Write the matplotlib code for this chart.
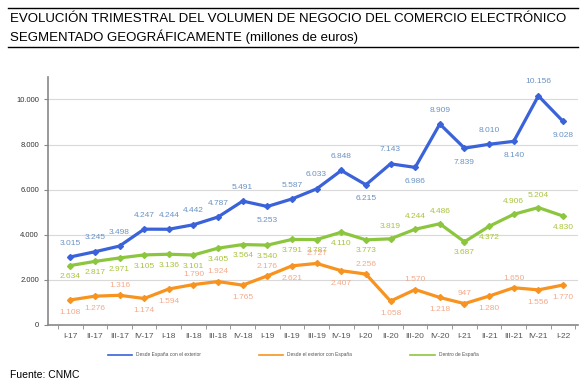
import matplotlib
matplotlib.use("Agg")
import matplotlib.pyplot as plt
from matplotlib.lines import Line2D
from matplotlib.ticker import FuncFormatter, FixedLocator

plt.rcParams["font.family"] = ["Liberation Sans", "DejaVu Sans"]

trimestres = ["I-17", "II-17", "III-17", "IV-17", "I-18", "II-18", "III-18", "IV-18",
              "I-19", "II-19", "III-19", "IV-19", "I-20", "II-20", "III-20", "IV-20",
              "I-21", "II-21", "III-21", "IV-21", "I-22"]
espana_exterior = [3015, 3245, 3498, 4247, 4244, 4442, 4787, 5491, 5253, 5587, 6033,
                   6848, 6215, 7143, 6986, 8909, 7839, 8010, 8140, 10156, 9028]
exterior_espana = [1108, 1276, 1316, 1174, 1594, 1790, 1924, 1765, 2176, 2621, 2727,
                   2407, 2256, 1058, 1570, 1218, 947, 1280, 1650, 1556, 1770]
dentro_espana = [2634, 2817, 2971, 3105, 3136, 3101, 3405, 3564, 3540, 3791, 3787,
                 4110, 3773, 3819, 4244, 4486, 3687, 4372, 4906, 5204, 4830]

# posicion de las etiquetas: "a" arriba, "b" abajo
pos_azul = list("aaaaaaaabaaababababab")
pos_naranja = list("bbabbaabababababababb")
pos_verde = list("bbbbbbbbbbbbbaaabbaab")


def fmt(v):
    return f"{v:,}".replace(",", ".")


fig = plt.figure(figsize=(5.86, 3.92), dpi=100)
ax = fig.add_axes([0.082, 0.171, 0.904, 0.633])

x = list(range(len(trimestres)))
series = [
    (espana_exterior, "#3a62d9", "#6a93c4", pos_azul, (10, -10), "Desde España con el exterior"),
    (exterior_espana, "#f7931e", "#f4a98a", pos_naranja, (7, -9), "Desde el exterior con España"),
    (dentro_espana, "#8cc63f", "#a8c43c", pos_verde, (9, -8), "Dentro de España"),
]
handles = []
for valores, color, color_et, pos, (arriba, abajo), nombre in series:
    ax.plot(x, valores, "-", color=color, lw=2.3, marker="D", ms=3)
    handles.append(Line2D([], [], color=color, lw=1.2, label=nombre))
    for xi, v, p in zip(x, valores, pos):
        dy = arriba if p == "a" else abajo
        ax.annotate(fmt(v), (xi, v), textcoords="offset points", xytext=(0, dy),
                    ha="center", va="center", fontsize=6, color=color_et)

ax.set_xlim(-0.9, len(trimestres) - 0.4)
ax.set_ylim(0, 11000)
ax.set_yticks(range(0, 10001, 2000))
ax.yaxis.set_major_formatter(FuncFormatter(lambda v, p: fmt(int(v))))
ax.set_xticks(x)
ax.set_xticklabels(trimestres)
ax.xaxis.set_minor_locator(FixedLocator([i - 0.5 for i in range(len(trimestres) + 1)]))
ax.tick_params(axis="x", which="major", length=0, labelsize=6, colors="#555555", pad=6)
ax.tick_params(axis="x", which="minor", length=3, color="#888888")
ax.tick_params(axis="y", length=3, labelsize=5.5, color="#888888", labelcolor="#333333")
ax.grid(axis="y", color="#d9d9d9", lw=0.8)
ax.set_axisbelow(True)
for s in ["top", "right"]:
    ax.spines[s].set_visible(False)
for s in ["left", "bottom"]:
    ax.spines[s].set_color("#888888")
    ax.spines[s].set_linewidth(1.2)

fig.legend(handles=handles, loc="center", bbox_to_anchor=(0.5, 0.095), ncol=3,
           frameon=False, fontsize=3.5, handlelength=5, columnspacing=12,
           labelcolor="#555555")

fig.lines.append(Line2D([0.014, 0.986], [0.98, 0.98], color="black", lw=1,
                        transform=fig.transFigure))
fig.lines.append(Line2D([0.014, 0.986], [0.88, 0.88], color="black", lw=1,
                        transform=fig.transFigure))
fig.text(0.017, 0.952, "EVOLUCIÓN TRIMESTRAL DEL VOLUMEN DE NEGOCIO DEL COMERCIO ELECTRÓNICO",
         fontsize=9.5, va="center")
fig.text(0.017, 0.906, "SEGMENTADO GEOGRÁFICAMENTE (millones de euros)", fontsize=9.5, va="center")
fig.text(0.017, 0.043, "Fuente: CNMC", fontsize=7.5, va="center")

fig.savefig("out.png", dpi=100)
